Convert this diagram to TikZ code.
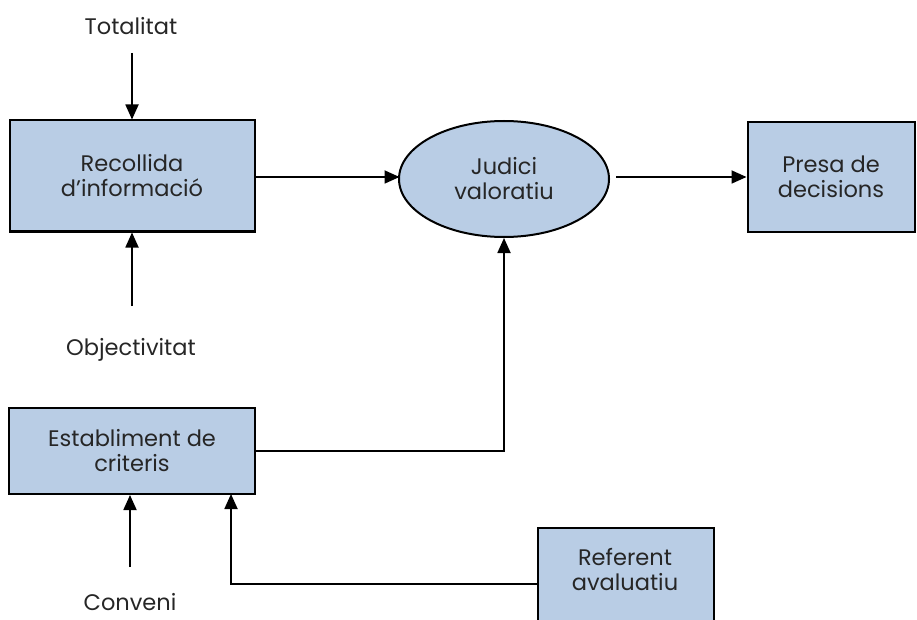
\documentclass[tikz,border=0pt]{standalone}
\usepackage{fontspec}
\setmainfont{Poppins}
\usetikzlibrary{shapes.geometric,arrows.meta}
\definecolor{boxfill}{HTML}{B9CDE5}
\begin{document}
\begin{tikzpicture}[x=1pt,y=-1pt,
  every node/.style={font=\fontsize{22.5}{25}\selectfont, align=center, text=black!85},
  blk/.style={draw=black, line width=2pt, fill=boxfill, inner sep=0pt},
  conn/.style={line width=1.8pt, -{Triangle[length=15pt,width=13pt]}}]
\useasboundingbox (0,0) rectangle (917,620);
% free labels
\node (tot) at (131,26) {Totalitat};
\node (obj) at (131,350) {Objectivitat};
\node (con) at (130,602) {Conveni};
\begin{scope}
\clip (0,0) rectangle (917,620);
% boxes
\node[blk, minimum width=245pt, minimum height=111pt] (rec) at (132,176) {Recollida\\d'informació};
\node[blk, ellipse, minimum width=210pt, minimum height=116pt] (jud) at (504,179) {Judici\\valoratiu};
\node[blk, minimum width=167pt, minimum height=110pt] (pre) at (831,177) {Presa de\\decisions};
\node[blk, minimum width=246pt, minimum height=86pt] (est) at (132,451) {Establiment de\\criteris};
\node[blk, minimum width=176pt, minimum height=120pt, anchor=north west] (ref) at (537,527) {};
\node at (625,570) {Referent\\avaluatiu};
\coordinate (totA) at (132,53);
\coordinate (objA) at (132,306);
\coordinate (conA) at (130,567);
\coordinate (row) at (0,177);
% connectors
\draw[conn] (totA) -- (rec.north -| totA);
\draw[conn] (objA) -- (rec.south -| objA);
\draw[conn] (rec.east |- row) -- ++(144,0);
\draw[conn] (616,177) -- (pre.west |- row);
\draw[conn] (est.east) -| (jud.south);
\draw[conn] (conA) -- (est.south -| conA);
\draw[conn] (ref.west |- 0,584) -| (231,494);
\end{scope}
\end{tikzpicture}
\end{document}
